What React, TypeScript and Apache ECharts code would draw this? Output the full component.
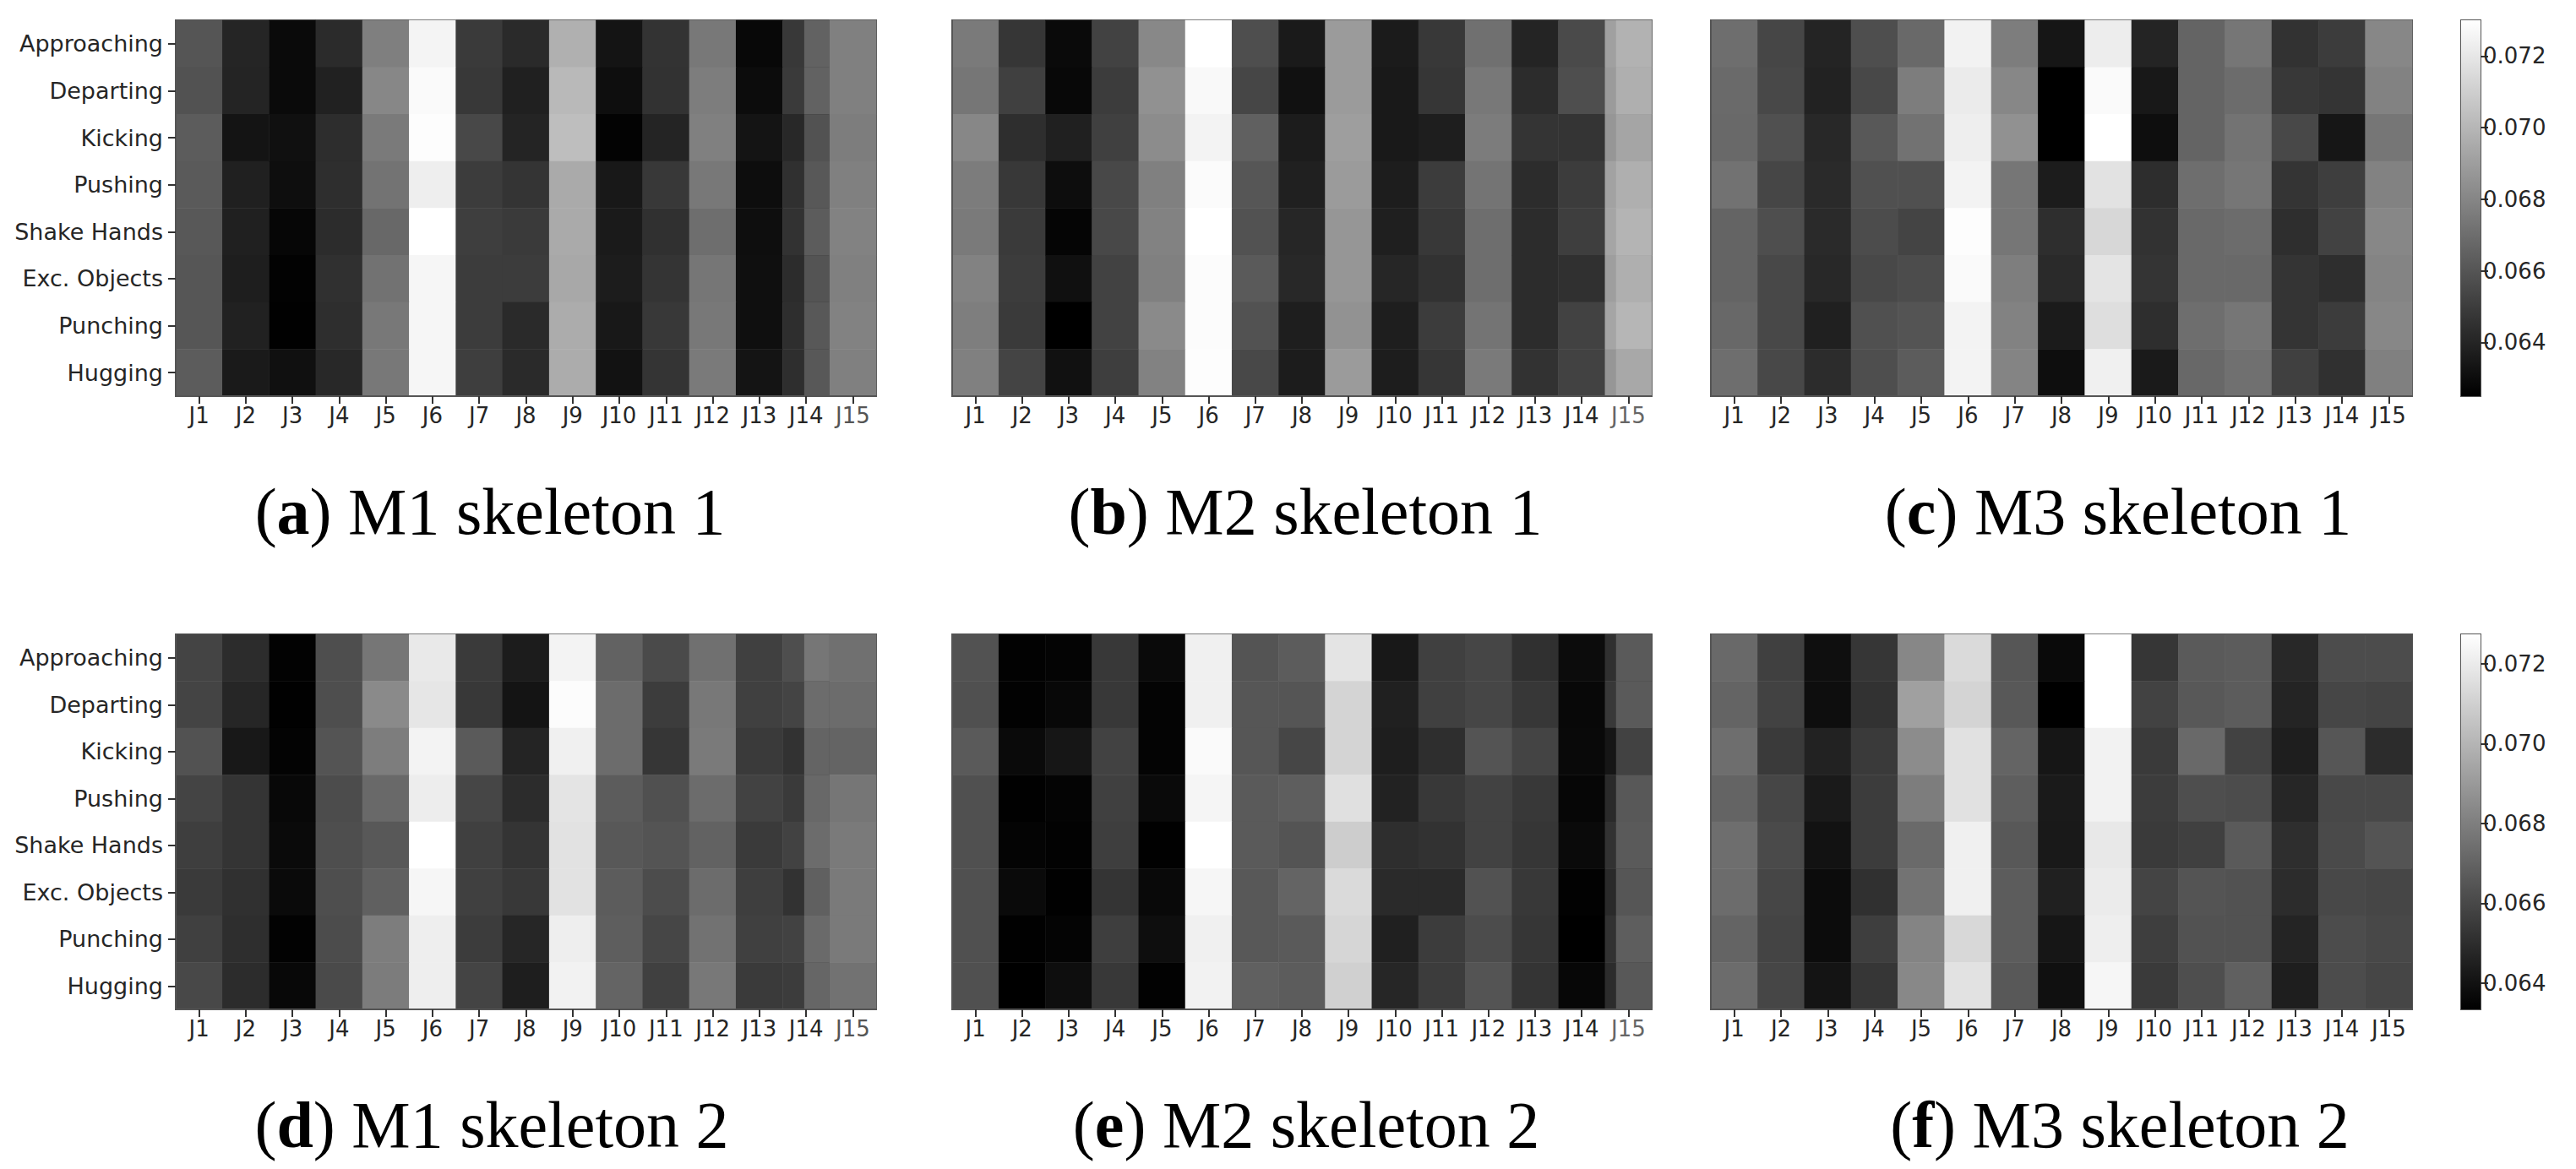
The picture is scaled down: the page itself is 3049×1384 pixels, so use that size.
import React, { useEffect, useRef } from "react";
import * as echarts from "echarts";

const ACTIONS = ["Approaching", "Departing", "Kicking", "Pushing", "Shake Hands", "Exc. Objects", "Punching", "Hugging"];
const JOINTS = ["J1", "J2", "J3", "J4", "J5", "J6", "J7", "J8", "J9", "J10", "J11", "J12", "J13", "J14", "J15"];
const CAPTION_LETTERS = ["a", "b", "c", "d", "e", "f"];
const CAPTION_TEXTS = ["M1 skeleton 1", "M2 skeleton 1", "M3 skeleton 1", "M1 skeleton 2", "M2 skeleton 2", "M3 skeleton 2"];
const COLORBAR_TICKS = [0.064, 0.066, 0.068, 0.07, 0.072];
const RANGE_TOP = [0.0625, 0.073];
const RANGE_BOTTOM = [0.06334, 0.07274];

const M1_S1 = [
  [0.06600,0.06402,0.06291,0.06427,0.06773,0.07255,0.06489,0.06423,0.06975,0.06332,0.06460,0.06744,0.06283,0.06481,0.06777],
  [0.06588,0.06398,0.06291,0.06386,0.06806,0.07280,0.06481,0.06382,0.07012,0.06308,0.06456,0.06765,0.06299,0.06489,0.06777],
  [0.06629,0.06332,0.06316,0.06435,0.06752,0.07292,0.06546,0.06398,0.07032,0.06262,0.06398,0.06777,0.06332,0.06415,0.06765],
  [0.06621,0.06382,0.06308,0.06439,0.06724,0.07230,0.06497,0.06464,0.06950,0.06349,0.06481,0.06744,0.06304,0.06448,0.06777],
  [0.06612,0.06382,0.06275,0.06431,0.06678,0.07300,0.06505,0.06489,0.06950,0.06357,0.06448,0.06703,0.06308,0.06456,0.06785],
  [0.06604,0.06374,0.06258,0.06448,0.06719,0.07263,0.06497,0.06497,0.06942,0.06365,0.06464,0.06736,0.06312,0.06431,0.06777],
  [0.06604,0.06386,0.06254,0.06439,0.06744,0.07263,0.06497,0.06423,0.06958,0.06349,0.06481,0.06744,0.06312,0.06439,0.06785],
  [0.06629,0.06357,0.06316,0.06415,0.06744,0.07263,0.06505,0.06423,0.06958,0.06324,0.06464,0.06752,0.06332,0.06439,0.06777],
];
const M1_S1_J14_FADE = [0.06654,0.06654,0.06588,0.06612,0.06629,0.06596,0.06612,0.06612];

const M2_S1 = [
  [0.06752,0.06472,0.06291,0.06522,0.06810,0.07300,0.06571,0.06357,0.06888,0.06361,0.06481,0.06711,0.06398,0.06555,0.06909],
  [0.06736,0.06514,0.06283,0.06497,0.06847,0.07275,0.06538,0.06320,0.06888,0.06353,0.06472,0.06744,0.06431,0.06571,0.06888],
  [0.06806,0.06439,0.06382,0.06514,0.06827,0.07251,0.06645,0.06365,0.06901,0.06353,0.06374,0.06761,0.06464,0.06464,0.06868],
  [0.06761,0.06481,0.06304,0.06546,0.06777,0.07284,0.06604,0.06382,0.06888,0.06369,0.06497,0.06728,0.06431,0.06497,0.06917],
  [0.06752,0.06489,0.06271,0.06546,0.06785,0.07300,0.06588,0.06406,0.06868,0.06378,0.06481,0.06703,0.06431,0.06505,0.06929],
  [0.06785,0.06497,0.06316,0.06522,0.06777,0.07288,0.06621,0.06415,0.06868,0.06406,0.06456,0.06703,0.06431,0.06448,0.06901],
  [0.06769,0.06489,0.06250,0.06522,0.06818,0.07288,0.06588,0.06374,0.06851,0.06374,0.06497,0.06728,0.06431,0.06522,0.06929],
  [0.06777,0.06530,0.06320,0.06505,0.06785,0.07292,0.06546,0.06365,0.06888,0.06369,0.06472,0.06752,0.06456,0.06522,0.06868],
];
const M2_S1_J15_FADE = [0.06983,0.06971,0.06929,0.06971,0.06991,0.06971,0.06999,0.06942];

const M3_S1 = [
  [0.06703,0.06538,0.06398,0.06571,0.06682,0.07247,0.06765,0.06341,0.07226,0.06398,0.06662,0.06736,0.06456,0.06497,0.06806],
  [0.06687,0.06546,0.06390,0.06546,0.06765,0.07218,0.06806,0.06250,0.07280,0.06349,0.06662,0.06695,0.06481,0.06464,0.06785],
  [0.06682,0.06579,0.06415,0.06612,0.06719,0.07230,0.06847,0.06250,0.07300,0.06308,0.06662,0.06724,0.06546,0.06341,0.06736],
  [0.06719,0.06538,0.06423,0.06579,0.06579,0.07251,0.06736,0.06365,0.07181,0.06435,0.06703,0.06736,0.06464,0.06505,0.06785],
  [0.06662,0.06571,0.06423,0.06563,0.06530,0.07292,0.06736,0.06439,0.07135,0.06456,0.06682,0.06695,0.06439,0.06522,0.06806],
  [0.06662,0.06546,0.06415,0.06546,0.06563,0.07280,0.06769,0.06423,0.07189,0.06464,0.06682,0.06682,0.06464,0.06439,0.06794],
  [0.06678,0.06546,0.06382,0.06579,0.06596,0.07251,0.06785,0.06361,0.07164,0.06439,0.06703,0.06736,0.06464,0.06497,0.06806],
  [0.06703,0.06546,0.06431,0.06571,0.06629,0.07251,0.06794,0.06308,0.07238,0.06357,0.06678,0.06711,0.06514,0.06448,0.06777],
];

const M1_S2 = [
  [0.06585,0.06496,0.06341,0.06622,0.06769,0.07193,0.06548,0.06437,0.07230,0.06695,0.06607,0.06747,0.06570,0.06622,0.06747],
  [0.06585,0.06474,0.06338,0.06622,0.06843,0.07182,0.06540,0.06408,0.07263,0.06732,0.06555,0.06776,0.06570,0.06585,0.06732],
  [0.06636,0.06422,0.06345,0.06644,0.06795,0.07230,0.06666,0.06467,0.07219,0.06732,0.06533,0.06784,0.06548,0.06518,0.06703],
  [0.06585,0.06526,0.06363,0.06614,0.06721,0.07208,0.06592,0.06496,0.07174,0.06673,0.06629,0.06732,0.06577,0.06548,0.06769],
  [0.06563,0.06526,0.06371,0.06622,0.06658,0.07274,0.06570,0.06526,0.07167,0.06658,0.06644,0.06695,0.06548,0.06577,0.06784],
  [0.06548,0.06511,0.06371,0.06622,0.06688,0.07241,0.06570,0.06540,0.07167,0.06673,0.06614,0.06732,0.06563,0.06518,0.06784],
  [0.06570,0.06504,0.06341,0.06614,0.06795,0.07211,0.06555,0.06474,0.07211,0.06680,0.06592,0.06754,0.06570,0.06577,0.06784],
  [0.06599,0.06496,0.06363,0.06607,0.06791,0.07211,0.06585,0.06445,0.07226,0.06703,0.06570,0.06776,0.06548,0.06555,0.06754],
];
const M1_S2_J14_FADE = [0.06769,0.06732,0.06703,0.06717,0.06732,0.06688,0.06725,0.06710];

const M2_S2 = [
  [0.06636,0.06341,0.06349,0.06540,0.06371,0.07219,0.06644,0.06673,0.07174,0.06422,0.06570,0.06592,0.06511,0.06378,0.06511],
  [0.06629,0.06341,0.06363,0.06540,0.06349,0.07219,0.06651,0.06647,0.07115,0.06452,0.06570,0.06592,0.06537,0.06363,0.06540],
  [0.06666,0.06371,0.06415,0.06577,0.06349,0.07255,0.06651,0.06592,0.07115,0.06445,0.06504,0.06644,0.06585,0.06367,0.06415],
  [0.06629,0.06338,0.06349,0.06570,0.06371,0.07237,0.06666,0.06680,0.07160,0.06459,0.06540,0.06577,0.06540,0.06356,0.06489],
  [0.06629,0.06349,0.06341,0.06563,0.06338,0.07274,0.06666,0.06644,0.07090,0.06504,0.06518,0.06577,0.06533,0.06371,0.06518],
  [0.06629,0.06371,0.06338,0.06526,0.06367,0.07241,0.06658,0.06703,0.07138,0.06489,0.06489,0.06636,0.06540,0.06341,0.06489],
  [0.06629,0.06338,0.06349,0.06563,0.06386,0.07219,0.06658,0.06666,0.07123,0.06452,0.06555,0.06614,0.06533,0.06334,0.06518],
  [0.06629,0.06334,0.06386,0.06540,0.06341,0.07226,0.06688,0.06673,0.07101,0.06474,0.06555,0.06644,0.06526,0.06360,0.06496],
];
const M2_S2_J15_FADE = [0.06666,0.06666,0.06577,0.06658,0.06666,0.06651,0.06680,0.06658];

const M3_S2 = [
  [0.06721,0.06570,0.06389,0.06533,0.06832,0.07138,0.06651,0.06371,0.07274,0.06533,0.06666,0.06673,0.06481,0.06614,0.06614],
  [0.06703,0.06577,0.06386,0.06518,0.06924,0.07115,0.06658,0.06334,0.07274,0.06577,0.06658,0.06673,0.06467,0.06592,0.06585],
  [0.06739,0.06548,0.06459,0.06548,0.06850,0.07163,0.06703,0.06415,0.07226,0.06548,0.06721,0.06577,0.06445,0.06651,0.06496],
  [0.06703,0.06592,0.06430,0.06555,0.06795,0.07163,0.06680,0.06430,0.07226,0.06555,0.06622,0.06614,0.06474,0.06599,0.06599],
  [0.06739,0.06607,0.06400,0.06555,0.06725,0.07219,0.06658,0.06426,0.07189,0.06548,0.06570,0.06666,0.06504,0.06607,0.06644],
  [0.06732,0.06592,0.06378,0.06511,0.06758,0.07219,0.06673,0.06452,0.07200,0.06585,0.06644,0.06636,0.06496,0.06599,0.06592],
  [0.06703,0.06585,0.06378,0.06563,0.06821,0.07130,0.06673,0.06415,0.07211,0.06563,0.06636,0.06636,0.06467,0.06614,0.06599],
  [0.06732,0.06592,0.06408,0.06533,0.06835,0.07167,0.06658,0.06393,0.07241,0.06548,0.06622,0.06688,0.06445,0.06614,0.06592],
];

const PANELS = [
  { rows: M1_S1, box: [208, 24, 829, 445], labels: true, fade: M1_S1_J14_FADE, fadeCol: 13, fadeFrom: 0.46, fadeLabel: "#555", row: 0, cx: 575, cy: 600 },
  { rows: M2_S1, box: [1127, 24, 828, 445], labels: false, fade: M2_S1_J15_FADE, fadeCol: 14, fadeFrom: 0.235, fadeLabel: "#666", row: 0, cx: 1540, cy: 600 },
  { rows: M3_S1, box: [2025, 24, 830, 445], labels: false, fade: null, fadeCol: 0, fadeFrom: 0, fadeLabel: "#262626", row: 0, cx: 2502, cy: 600 },
  { rows: M1_S2, box: [208, 751, 829, 444], labels: true, fade: M1_S2_J14_FADE, fadeCol: 13, fadeFrom: 0.46, fadeLabel: "#555", row: 1, cx: 577, cy: 1326 },
  { rows: M2_S2, box: [1127, 751, 828, 444], labels: false, fade: M2_S2_J15_FADE, fadeCol: 14, fadeFrom: 0.235, fadeLabel: "#666", row: 1, cx: 1541, cy: 1326 },
  { rows: M3_S2, box: [2025, 751, 830, 444], labels: false, fade: null, fadeCol: 0, fadeFrom: 0, fadeLabel: "#262626", row: 1, cx: 2504, cy: 1326 },
];
const COLORBARS = [
  { box: [2913, 24, 23, 445], range: RANGE_TOP },
  { box: [2913, 751, 23, 444], range: RANGE_BOTTOM },
];

const FRAME = "#555555";
const TEXT = "#262626";
const SANS = "'DejaVu Sans'";

function buildOption() {
  const grid: any[] = [];
  const xAxis: any[] = [];
  const yAxis: any[] = [];
  const series: any[] = [];
  const title: any[] = [];
  const seriesByRow: number[][] = [[], []];

  PANELS.forEach((p, i) => {
    const [left, top, width, height] = p.box;
    grid.push({ left, top, width, height, show: true, borderColor: FRAME, borderWidth: 2, backgroundColor: "transparent", containLabel: false });
    xAxis.push({
      type: "category", gridIndex: i, data: JOINTS, z: 10,
      axisLine: { show: true, lineStyle: { color: FRAME, width: 2 } },
      axisTick: { show: true, alignWithLabel: true, length: 9, lineStyle: { color: "#333", width: 2 } },
      axisLabel: {
        interval: 0, fontFamily: SANS, fontSize: 26, margin: 10,
        color: (v: string) => (p.fade && JOINTS.indexOf(v) >= p.fadeCol + (p.fadeFrom > 0.4 ? 1 : 0) ? p.fadeLabel : TEXT),
      },
      splitLine: { show: false },
    });
    yAxis.push({
      type: "category", gridIndex: i, data: ACTIONS, inverse: true, z: 10,
      axisLine: { show: true, lineStyle: { color: FRAME, width: 2 } },
      axisTick: { show: p.labels, alignWithLabel: true, length: 9, lineStyle: { color: "#333", width: 2 } },
      axisLabel: { show: p.labels, interval: 0, fontFamily: SANS, fontSize: 27, margin: 15, color: TEXT },
      splitLine: { show: false },
    });
    seriesByRow[p.row].push(series.length);
    series.push({
      type: "heatmap", xAxisIndex: i, yAxisIndex: i, animation: false, progressive: 0,
      data: p.rows.flatMap((r, y) => r.map((v, x) => [x, y, v])),
      emphasis: { disabled: true },
    });
    if (p.fade) {
      seriesByRow[p.row].push(series.length);
      series.push({
        type: "custom", xAxisIndex: i, yAxisIndex: i, z: 3, silent: true,
        encode: { x: 0, y: 1 },
        data: p.fade.map((v, y) => [p.fadeCol, y, v]),
        renderItem: (_: any, api: any) => {
          const c = api.coord([api.value(0), api.value(1)]);
          const w = api.size([1, 0])[0];
          const h = api.size([0, 1])[1];
          return {
            type: "rect",
            shape: { x: c[0] - w / 2 + w * p.fadeFrom, y: c[1] - h / 2, width: w * (1 - p.fadeFrom), height: h },
            style: { fill: api.visual("color") },
          };
        },
      });
    }
    title.push({
      text: `({b|${CAPTION_LETTERS[i]}}) ${CAPTION_TEXTS[i]}`,
      left: p.cx, top: p.cy, textAlign: "center", textVerticalAlign: "middle",
      textStyle: {
        fontFamily: "'Liberation Serif'", fontSize: 78, fontWeight: "normal", color: "#000",
        rich: { b: { fontFamily: "'Liberation Serif'", fontSize: 78, fontWeight: "bold", color: "#000" } },
      },
    });
  });

  COLORBARS.forEach((cb, k) => {
    const idx = grid.length;
    const [left, top, width, height] = cb.box;
    grid.push({ left, top, width, height, show: true, borderColor: FRAME, borderWidth: 2, backgroundColor: "transparent" });
    xAxis.push({ type: "category", gridIndex: idx, data: ["bar"], show: false });
    yAxis.push({
      type: "value", gridIndex: idx, position: "right", min: cb.range[0], max: cb.range[1], z: 10,
      axisLine: { show: false },
      splitLine: { show: false },
      axisTick: { show: true, length: 9, customValues: COLORBAR_TICKS, lineStyle: { color: "#333", width: 2 } },
      axisLabel: {
        show: true, customValues: COLORBAR_TICKS, fontFamily: SANS, fontSize: 26, margin: 3, color: TEXT,
        formatter: (v: number) => v.toFixed(3),
      },
    });
    series.push({
      type: "custom", xAxisIndex: idx, yAxisIndex: idx, silent: true,
      encode: { x: 0, y: [1, 2] },
      data: [[0, cb.range[0], cb.range[1]]],
      renderItem: (_: any, api: any) => {
        const a = api.coord([api.value(0), api.value(2)]);
        const b = api.coord([api.value(0), api.value(1)]);
        const w = api.size([1, 0])[0];
        return {
          type: "rect",
          shape: { x: a[0] - w / 2, y: a[1], width: w, height: b[1] - a[1] },
          style: {
            fill: new echarts.graphic.LinearGradient(0, 0, 0, 1, [
              { offset: 0, color: "#ffffff" },
              { offset: 1, color: "#000000" },
            ]),
          },
        };
      },
    });
    void k;
  });

  const visualMap = [RANGE_TOP, RANGE_BOTTOM].map((range, k) => ({
    type: "continuous", show: false, dimension: 2, min: range[0], max: range[1],
    seriesIndex: seriesByRow[k], inRange: { color: ["#000000", "#ffffff"] },
  }));

  return { animation: false, backgroundColor: "#ffffff", title, grid, xAxis, yAxis, series, visualMap };
}

export default function App() {
  const ref = useRef<HTMLDivElement>(null);
  useEffect(() => {
    const chart = echarts.init(ref.current as HTMLDivElement, undefined, { renderer: "svg" });
    chart.setOption(buildOption() as any);
    return () => chart.dispose();
  }, []);
  return <div ref={ref} style={{ position: "fixed", left: 0, top: 0, width: 3049, height: 1384 }} />;
}
